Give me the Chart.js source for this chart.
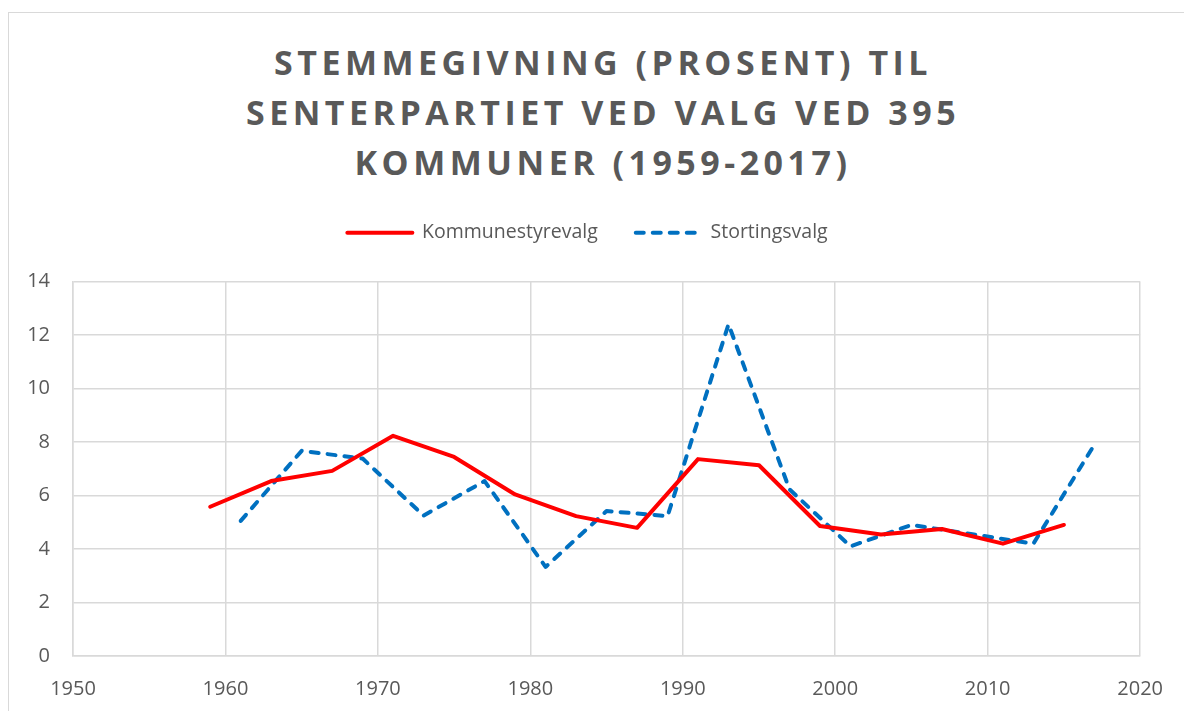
<!DOCTYPE html>
<html>
<head>
<meta charset="utf-8">
<script src="https://cdn.jsdelivr.net/npm/chart.js@4"></script>
<style>
  body { margin: 0; background: #fff; width: 1184px; height: 711px; overflow: hidden; position: relative; }
  #ramme { position: absolute; left: 8px; top: 12px; width: 1200px; height: 720px; border: 1px solid #D9D9D9; }
  #tittel {
    position: absolute; left: 0; top: 37px; width: 1206px; text-align: center;
    font-family: "Open Sans", sans-serif; font-weight: bold; font-size: 34px;
    letter-spacing: 4.5px; line-height: 50px; color: #595959;
  }
  #boks { position: absolute; left: 9px; top: 185px; width: 1175px; height: 526px; }
</style>
</head>
<body>
<div id="ramme"></div>
<div id="tittel">STEMMEGIVNING (PROSENT) TIL<br>SENTERPARTIET VED VALG VED 395<br>KOMMUNER (1959-2017)</div>
<div id="boks"><canvas id="graf"></canvas></div>
<script>
// Kommunestyrevalg
const aarKommune = [1959, 1963, 1967, 1971, 1975, 1979, 1983, 1987, 1991, 1995, 1999, 2003, 2007, 2011, 2015];
const verdiKommune = [5.58, 6.54, 6.92, 8.23, 7.44, 6.04, 5.23, 4.79, 7.36, 7.13, 4.86, 4.54, 4.75, 4.2, 4.9];

// Stortingsvalg
const aarStorting = [1961, 1965, 1969, 1973, 1977, 1981, 1985, 1989, 1993, 1997, 2001, 2005, 2009, 2013, 2017];
const verdiStorting = [5.05, 7.67, 7.38, 5.25, 6.54, 3.33, 5.42, 5.23, 12.4, 6.23, 4.1, 4.9, 4.55, 4.2, 7.9];

const seriNavn = ["Kommunestyrevalg", "Stortingsvalg"];
const xMin = 1950, xMax = 2020, xSteg = 10;
const yMin = 0, yMax = 14, ySteg = 2;

function lagPunkter(aar, verdier) {
  return aar.map((a, i) => ({ x: a, y: verdier[i] }));
}

// legenden henter ikke strek-monsteret selv naar usePointStyle er paa
function lagLegende(chart) {
  const elementer = Chart.defaults.plugins.legend.labels.generateLabels(chart);
  elementer.forEach((el) => {
    const ds = chart.data.datasets[el.datasetIndex];
    el.lineDash = ds.borderDash || [];
    el.lineCap = "round";
    el.lineWidth = 4;
    el.strokeStyle = ds.borderColor;
  });
  return elementer;
}

const gra = "#595959";
const rutenett = "#D9D9D9";

new Chart(document.getElementById("graf"), {
  type: "line",
  data: {
    datasets: [
      {
        label: seriNavn[0],
        data: lagPunkter(aarKommune, verdiKommune),
        borderColor: "#FF0000",
        backgroundColor: "#FF0000",
        borderWidth: 4,
        borderCapStyle: "round",
        borderJoinStyle: "round",
        pointRadius: 0,
        tension: 0,
      },
      {
        label: seriNavn[1],
        data: lagPunkter(aarStorting, verdiStorting),
        borderColor: "#0070C0",
        backgroundColor: "#0070C0",
        borderWidth: 4,
        borderDash: [8, 9],
        borderCapStyle: "round",
        borderJoinStyle: "round",
        pointRadius: 0,
        tension: 0,
      },
    ],
  },
  options: {
    responsive: true,
    maintainAspectRatio: false,
    animation: false,
    layout: { padding: { left: 0, right: 18, top: 0, bottom: 0 } },
    plugins: {
      legend: {
        position: "top",
        labels: {
          usePointStyle: true,
          pointStyle: "line",
          pointStyleWidth: 65,
          padding: 38,
          color: gra,
          font: { family: "Open Sans", size: 19.5 },
          generateLabels: lagLegende,
        },
      },
      subtitle: {
        display: true,
        text: "",
        weight: 500,
        padding: { top: 5, bottom: 0 },
        font: { size: 20 },
      },
      tooltip: { enabled: false },
    },
    scales: {
      x: {
        type: "linear",
        min: xMin,
        max: xMax,
        afterFit: (skala) => { skala.height = 55; },
        ticks: {
          stepSize: xSteg,
          padding: 21,
          color: gra,
          font: { family: "Open Sans", size: 20 },
          callback: (v) => String(v),
        },
        grid: { color: rutenett, lineWidth: 1.5, drawTicks: false },
        border: { color: rutenett, width: 1.5 },
      },
      y: {
        min: yMin,
        max: yMax,
        afterFit: (skala) => { skala.width = 64; },
        ticks: {
          stepSize: ySteg,
          padding: 23,
          color: gra,
          font: { family: "Open Sans", size: 20 },
        },
        grid: { color: rutenett, lineWidth: 1.5, drawTicks: false },
        border: { color: rutenett, width: 1.5 },
      },
      // tom akse til hoyre, bare for aa holde plass
      hoyre: {
        position: "right",
        display: true,
        afterFit: (skala) => { skala.width = 24; },
        ticks: { display: false },
        grid: { display: false },
        border: { display: false },
      },
    },
  },
});
</script>
</body>
</html>
